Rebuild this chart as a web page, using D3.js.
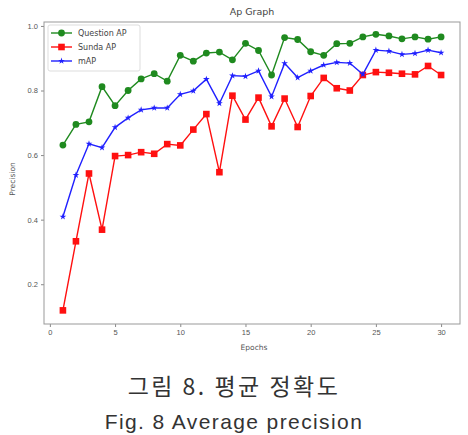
<!DOCTYPE html>
<html><head><meta charset="utf-8">
<script src="https://cdn.jsdelivr.net/npm/d3@7"></script>
<style>body{margin:0;background:#fff;}svg{display:block;font-family:"DejaVu Sans",sans-serif;}</style>
</head><body>
<script>
const epochs = d3.range(1, 31);
const questionAP = [0.631,0.695,0.703,0.812,0.753,0.800,0.836,0.852,0.829,0.909,0.891,0.916,0.919,0.895,0.946,0.924,0.848,0.964,0.958,0.920,0.909,0.945,0.946,0.966,0.974,0.969,0.960,0.966,0.959,0.966];
const sundaAP = [0.119,0.333,0.543,0.369,0.597,0.600,0.609,0.604,0.634,0.630,0.679,0.727,0.547,0.784,0.710,0.778,0.689,0.775,0.687,0.783,0.839,0.807,0.800,0.848,0.857,0.855,0.852,0.850,0.876,0.848];
const mAP = [0.409,0.538,0.635,0.623,0.686,0.715,0.740,0.746,0.746,0.788,0.799,0.835,0.760,0.846,0.844,0.861,0.781,0.884,0.840,0.861,0.879,0.887,0.885,0.850,0.925,0.922,0.912,0.915,0.925,0.917];
const seriesNames = ["Question AP","Sunda AP","mAP"];
const xTicks = [0,5,10,15,20,25,30];
const yTicks = [0.2,0.4,0.6,0.8,1.0];
const title = "Ap Graph", xLabel = "Epochs", yLabel = "Precision";
const captionKo = "그림 8. 평균 정확도", captionEn = "Fig. 8 Average precision";

const W = 468, H = 435;
const L = 44, R = 460, T = 22, B = 324;
const svg = d3.select("body").append("svg").attr("width", W).attr("height", H);
const x = d3.scaleLinear().domain([-0.45, 31.45]).range([L, R]);
const y = d3.scaleLinear().domain([0.0768, 1.0122]).range([B, T]);

const textCol = "#555";
const ax = svg.append("g");
const xa = ax.append("g").attr("transform", `translate(0,${B})`)
  .call(d3.axisBottom(x).tickValues(xTicks).tickFormat(d3.format("d")).tickSize(3).tickPadding(3));
const ya = ax.append("g").attr("transform", `translate(${L},0)`)
  .call(d3.axisLeft(y).tickValues(yTicks).tickFormat(d3.format(".1f")).tickSize(3).tickPadding(3));
[xa, ya].forEach(a => {
  a.select(".domain").remove();
  a.selectAll("line").attr("stroke", "#888");
  a.selectAll("text").attr("fill", textCol).style("font-size", "7.5px");
});
svg.append("rect").attr("x", L).attr("y", T).attr("width", R - L).attr("height", B - T)
  .attr("fill", "none").attr("stroke", "#999").attr("stroke-width", 1);

svg.append("text").attr("x", (L + R) / 2).attr("y", 15).attr("text-anchor", "middle")
  .attr("fill", "#444").style("font-size", "9.5px").text(title);
svg.append("text").attr("x", (L + R) / 2 + 2).attr("y", 350).attr("text-anchor", "middle")
  .attr("fill", textCol).style("font-size", "7.5px").text(xLabel);
svg.append("text").attr("transform", "translate(15,179) rotate(-90)").attr("text-anchor", "middle")
  .attr("fill", textCol).style("font-size", "7.5px").text(yLabel);

const data = [questionAP, sundaAP, mAP];
const colors = ["#1f8a1f", "#ff1010", "#2020ff"];
const line = d3.line().x((d, i) => x(epochs[i])).y(d => y(d));
const star = d3.symbol().type(d3.symbolStar).size(14);
data.forEach((vals, k) => {
  const g = svg.append("g");
  g.append("path").datum(vals).attr("d", line).attr("fill", "none")
    .attr("stroke", colors[k]).attr("stroke-width", 1.4);
  const pts = g.selectAll(".m").data(vals).enter();
  if (k === 0) pts.append("circle").attr("cx", (d, i) => x(epochs[i])).attr("cy", d => y(d)).attr("r", 3.4).attr("fill", colors[k]);
  else if (k === 1) pts.append("rect").attr("x", (d, i) => x(epochs[i]) - 3.3).attr("y", d => y(d) - 3.3).attr("width", 6.6).attr("height", 6.6).attr("fill", colors[k]);
  else pts.append("path").attr("d", star).attr("transform", (d, i) => `translate(${x(epochs[i])},${y(d)})`).attr("fill", colors[k]);
});

// legend
const lg = svg.append("g");
lg.append("rect").attr("x", 48).attr("y", 25).attr("width", 92).attr("height", 46).attr("rx", 2)
  .attr("fill", "#fff").attr("fill-opacity", 0.85).attr("stroke", "#ddd");
seriesNames.forEach((n, k) => {
  const yy = 33 + k * 14;
  lg.append("line").attr("x1", 51).attr("x2", 72).attr("y1", yy).attr("y2", yy).attr("stroke", colors[k]).attr("stroke-width", 1.4);
  if (k === 0) lg.append("circle").attr("cx", 61.5).attr("cy", yy).attr("r", 3.4).attr("fill", colors[k]);
  else if (k === 1) lg.append("rect").attr("x", 58.2).attr("y", yy - 3.3).attr("width", 6.6).attr("height", 6.6).attr("fill", colors[k]);
  else lg.append("path").attr("d", star).attr("transform", `translate(61.5,${yy})`).attr("fill", colors[k]);
  lg.append("text").attr("x", 78).attr("y", yy + 3).attr("fill", "#444").style("font-size", "8px").text(n);
});

svg.append("text").attr("x", 234).attr("y", 395).attr("text-anchor", "middle")
  .attr("fill", "#333").style("font-family", "'Noto Sans CJK KR'").style("font-size", "23px")
  .style("letter-spacing", "2.5px").text(captionKo);
svg.append("text").attr("x", 234).attr("y", 429).attr("text-anchor", "middle")
  .attr("fill", "#333").style("font-family", "'Liberation Sans', sans-serif").style("font-size", "21px")
  .style("letter-spacing", "1.4px").text(captionEn);
</script>
</body></html>
